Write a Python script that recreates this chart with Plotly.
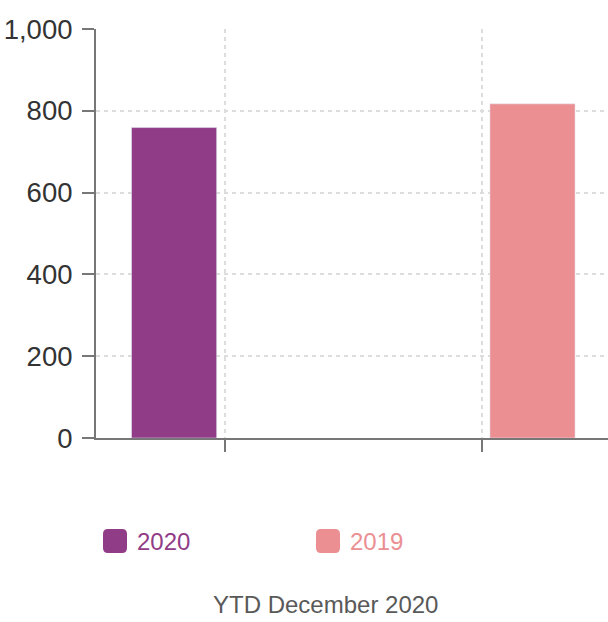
import plotly.graph_objects as go

categorias = ["Grupo A", "Grupo B"]
series = ["2020", "2019"]
valores_2020 = [759, None]
valores_2019 = [None, 817]
cores = {"2020": "#913c87", "2019": "#eb8f93"}
titulo_x = "YTD December 2020"

W, H = 608, 622
M_L, M_R, M_T, M_B = 96, 0, 29, 184
PW = W - M_L - M_R
PH = H - M_T - M_B


def px_x(x):
    return (x - M_L) / PW


def px_y(y):
    return (H - M_B - y) / PH


def quadrado_arredondado(x0, y0, lado, r):
    # path em coordenadas paper, calculado a partir de pixels
    x1, y1 = x0 + lado, y0 + lado
    pts = [
        ("M", [(x0 + r, y0)]),
        ("L", [(x1 - r, y0)]),
        ("Q", [(x1, y0), (x1, y0 + r)]),
        ("L", [(x1, y1 - r)]),
        ("Q", [(x1, y1), (x1 - r, y1)]),
        ("L", [(x0 + r, y1)]),
        ("Q", [(x0, y1), (x0, y1 - r)]),
        ("L", [(x0, y0 + r)]),
        ("Q", [(x0, y0), (x0 + r, y0)]),
    ]
    partes = []
    for cmd, coords in pts:
        partes.append(cmd + " ".join(f"{px_x(a):.5f},{px_y(b):.5f}" for a, b in coords))
    return " ".join(partes) + " Z"


fig = go.Figure()
fig.add_trace(go.Bar(x=categorias, y=valores_2020, name="2020",
                     marker_color=cores["2020"], showlegend=False))
fig.add_trace(go.Bar(x=categorias, y=valores_2019, name="2019",
                     marker_color=cores["2019"], showlegend=False))

shapes = []
annotations = []
for nome, x_sym in zip(series, [103, 316]):
    shapes.append(dict(type="path", xref="paper", yref="paper",
                       path=quadrado_arredondado(x_sym, 529, 24, 5),
                       fillcolor=cores[nome], line_width=0))
    annotations.append(dict(text=nome, xref="paper", yref="paper",
                            x=px_x(x_sym + 32), y=px_y(541), xanchor="left",
                            yanchor="middle", showarrow=False,
                            font=dict(size=24, color=cores[nome])))

annotations.append(dict(text=titulo_x, xref="paper", yref="paper",
                        x=px_x(325), y=px_y(604), xanchor="center",
                        yanchor="middle", showarrow=False,
                        font=dict(size=24, color="#595959")))

grade = dict(showgrid=True, gridcolor="#dddddd", griddash="4px,4px", gridwidth=1.5)

fig.update_layout(
    width=W, height=H,
    margin=dict(l=M_L, r=M_R, t=M_T, b=M_B),
    plot_bgcolor="white", paper_bgcolor="white",
    font=dict(family="Arial, Liberation Sans, sans-serif", color="#333333"),
    barmode="group", bargap=0.214, bargroupgap=0.158,
    shapes=shapes, annotations=annotations,
    xaxis=dict(
        range=[-0.5, 1.49],
        tickvals=categorias, ticktext=["", ""],
        ticks="outside", ticklen=12, tickwidth=2, tickcolor="#777777",
        showline=True, linecolor="#777777", linewidth=2,
        zeroline=False, **grade,
    ),
    yaxis=dict(
        range=[0, 1000], dtick=200, tickformat=",",
        ticks="outside", ticklen=12, tickwidth=2, tickcolor="#777777",
        ticklabelstandoff=4,
        showline=True, linecolor="#777777", linewidth=2,
        zeroline=False, **grade,
        tickfont=dict(size=27.5, color="#333333"),
    ),
)

fig.write_html("out.html", config={"displayModeBar": False},
               post_script="document.body.style.margin='0';")
